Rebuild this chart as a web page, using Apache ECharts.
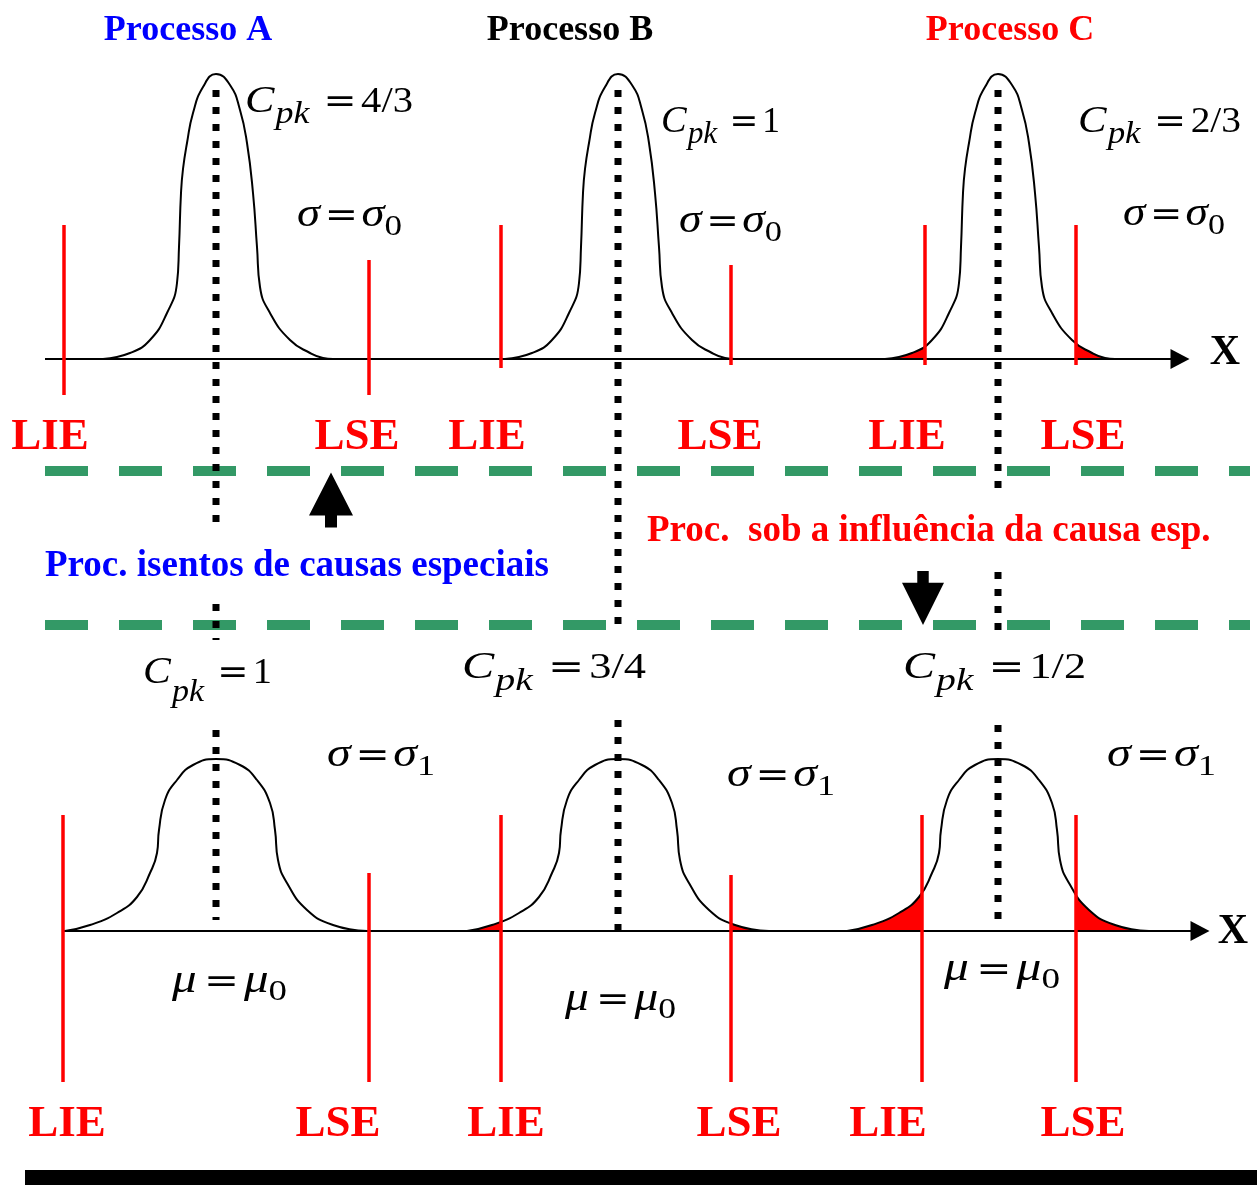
<!DOCTYPE html>
<html>
<head>
<meta charset="utf-8">
<script src="https://cdn.jsdelivr.net/npm/echarts@6/dist/echarts.min.js"></script>
<style>
  html, body { margin: 0; padding: 0; background: #fff; }
  #chart { width: 1257px; height: 1185px; }
</style>
</head>
<body>
<div id="chart"></div>
<script>
// ---- data -------------------------------------------------------------
const processNames  = ['Processo A', 'Processo B', 'Processo C'];
const means         = [216, 618, 998];                 // process mean on the x scale
const limitsSigma0  = [[64, 369], [501, 731], [925, 1076]];   // [LIE, LSE], sigma = sigma0
const limitsSigma1  = [[63, 369], [501, 731], [922, 1076]];   // [LIE, LSE], sigma = sigma1
const cpkSigma0     = ['4/3', '1', '2/3'];
const cpkSigma1     = ['1', '3/4', '1/2'];
// density outlines: [offset from mean, height above the x axis]
const profileSigma0 = [[-113, 0], [-86, 6], [-66, 19], [-49, 46], [-39, 76], [-37, 112],
  [-35, 166], [-33, 190], [-29, 216], [-23, 246], [-13, 272], [0, 285], [14, 274],
  [24, 249], [31, 216], [37, 166], [41, 112], [44, 72], [54, 46], [74, 19], [94, 6],
  [107, 1], [117, 0]];
const profileSigma1 = [[-151, 0], [-126, 6], [-99, 18], [-79, 34], [-66, 58], [-59, 78],
  [-57, 101], [-51, 131], [-39, 151], [-23, 166], [0, 172], [24, 166], [41, 151],
  [54, 128], [59, 101], [62, 71], [71, 48], [91, 21], [117, 6], [151, 0]];

// ---- layout -----------------------------------------------------------
const W = 1257, H = 1185;
const rows = [
  { base: 359, profile: profileSigma0, limits: limitsSigma0,
    limitTops: [[225, 260], [225, 265], [225, 225]], limitBottoms: [[395, 395], [368, 365], [365, 365]],
    axis: [45, 1180], arrowX: 1180, xLabel: [1225, 353],
    limitLabelY: 437, limitLabelX: [[50, 357], [487, 720], [907, 1083]] },
  { base: 931, profile: profileSigma1, limits: limitsSigma1,
    limitTops: [[815, 873], [815, 875], [815, 815]], limitBottoms: [[1082, 1082], [1082, 1082], [1082, 1082]],
    axis: [63, 1200], arrowX: 1200, xLabel: [1233, 932],
    limitLabelY: 1124, limitLabelX: [[67, 338], [506, 739], [888, 1083]] }
];
const meanDots = [
  [[90, 522], [604, 640], [730, 920]],
  [[90, 632], [720, 930]],
  [[90, 488], [572, 634], [725, 920]]
];
const cpkLayout = [
  { x0: 245, x1: 413, base: 115, sub: 10 },
  { x0: 661, x1: 780, base: 135, sub: 10 },
  { x0: 1078, x1: 1241, base: 135, sub: 10 },
  { x0: 143, x1: 272, base: 686, sub: 17 },
  { x0: 462, x1: 646, base: 681, sub: 11 },
  { x0: 903, x1: 1086, base: 681, sub: 11 }
];
const sigmaLayout = [
  { x0: 297, x1: 402, base: 229 }, { x0: 679, x1: 782, base: 235 }, { x0: 1123, x1: 1225, base: 228 },
  { x0: 327, x1: 435, base: 769 }, { x0: 727, x1: 835, base: 789 }, { x0: 1107, x1: 1216, base: 769 }
];
const muLayout = [
  { x0: 172, x1: 287, base: 995 }, { x0: 565, x1: 676, base: 1013 }, { x0: 944, x1: 1060, base: 983 }
];
const titleLayout = [[188, 31, '#0000FF'], [570, 31, '#000000'], [1010, 31, '#FF0000']];

const SERIF = "'Liberation Serif', 'Times New Roman', serif";
const RED = '#FF0000', GREEN = '#339966';

// ---- helpers ----------------------------------------------------------
const mctx = document.createElement('canvas').getContext('2d');
function textWidth(t, font) { mctx.font = font; return mctx.measureText(t).width; }

// formula made of pieces laid side by side, stretched to span x0..x1
function formula(lay, parts) {
  let x = 0;
  const kids = [];
  parts.forEach(p => {
    x += p.gap || 0;
    const font = (p.style ? p.style + ' ' : '') + p.size + 'px ' + (p.family || SERIF);
    kids.push({
      type: 'text', x: x, y: (p.dy || 0) - 0.34 * p.size,
      style: { text: p.t, font: font, fill: '#000', align: 'left', verticalAlign: 'middle' }
    });
    x += textWidth(p.t, font);
  });
  return { type: 'group', x: lay.x0, y: lay.base, scaleX: (lay.x1 - lay.x0) / x, children: kids, z: 10 };
}
function part(t, size, style, extra) {
  return Object.assign({ t: t, size: size, style: style }, extra || {});
}

// ---- series -----------------------------------------------------------
const series = [];
const visualMaps = [];
function segment(points, lineStyle, z) {
  series.push({ type: 'line', data: points, symbol: 'none', silent: true,
    lineStyle: lineStyle, z: z || 2, animation: false });
}

rows.forEach(row => {
  // x axis with arrow
  segment([[row.axis[0], row.base], [row.axis[1] - 8, row.base]], { color: '#000', width: 2 }, 3);
  series.push({ type: 'scatter', data: [[row.arrowX, row.base]], symbol: 'triangle',
    symbolSize: [20, 19], symbolRotate: -90, itemStyle: { color: '#000', opacity: 1 }, silent: true, z: 3 });

  means.forEach((m, i) => {
    const pts = row.profile.map(([dx, h]) => [m + dx, row.base - h]);
    const [lie, lse] = row.limits[i];
    // out-of-spec tails
    visualMaps.push({ type: 'piecewise', show: false, dimension: 0, seriesIndex: series.length,
      pieces: [{ lt: lie, color: RED }, { gte: lie, lte: lse, color: 'rgba(255,0,0,0)' }, { gt: lse, color: RED }] });
    series.push({ type: 'line', data: pts, smooth: 0.5, symbol: 'none',
      lineStyle: { width: 0 }, areaStyle: { origin: row.base, opacity: 1 }, z: 1, silent: true, animation: false });
    // density outline
    series.push({ type: 'line', data: pts, smooth: 0.5, symbol: 'none',
      lineStyle: { color: '#000', width: 2 }, z: 3, silent: true, animation: false });
    // LIE / LSE
    segment([[lie, row.limitTops[i][0]], [lie, row.limitBottoms[i][0]]], { color: RED, width: 3.5 }, 4);
    segment([[lse, row.limitTops[i][1]], [lse, row.limitBottoms[i][1]]], { color: RED, width: 3.5 }, 4);
  });
});

// means (dotted)
means.forEach((m, i) => {
  meanDots[i].forEach(([y1, y2]) =>
    segment([[m, y1], [m, y2]], { color: '#000', width: 7, type: [7, 10], cap: 'butt' }, 6));
});

// dashed separators
[471, 625].forEach(y => segment([[45, y], [1250, y]], { color: GREEN, width: 10, type: [43, 31], cap: 'butt' }, 5));

// block arrows
const blockArrow = 'path://M22 0 L44 43 L28 43 L28 55 L16 55 L16 43 L0 43 Z';
series.push({ type: 'scatter', data: [[331, 500]], symbol: blockArrow, symbolSize: [44, 55],
  itemStyle: { color: '#000', opacity: 1 }, silent: true, z: 7 });
series.push({ type: 'scatter', data: [[923, 598]], symbol: blockArrow, symbolSize: [42, 54], symbolRotate: 180,
  itemStyle: { color: '#000', opacity: 1 }, silent: true, z: 7 });

// ---- text -------------------------------------------------------------
const graphic = [];
processNames.forEach((name, i) => {
  graphic.push({ type: 'text', x: titleLayout[i][0], y: titleLayout[i][1],
    style: { text: name, font: 'bold 36px ' + SERIF, fill: titleLayout[i][2], align: 'center', verticalAlign: 'middle' } });
});
rows.forEach(row => {
  row.limitLabelX.forEach(([a, b]) => {
    graphic.push({ type: 'text', x: a, y: row.limitLabelY,
      style: { text: 'LIE', font: 'bold 45px ' + SERIF, fill: RED, align: 'center', verticalAlign: 'middle' } });
    graphic.push({ type: 'text', x: b, y: row.limitLabelY,
      style: { text: 'LSE', font: 'bold 45px ' + SERIF, fill: RED, align: 'center', verticalAlign: 'middle' } });
  });
  graphic.push({ type: 'text', x: row.xLabel[0], y: row.xLabel[1],
    style: { text: 'X', font: 'bold 42px ' + SERIF, fill: '#000', align: 'center', verticalAlign: 'middle' } });
});
graphic.push({ type: 'text', x: 45, y: 566,
  style: { text: 'Proc. isentos de causas especiais', font: 'bold 37px ' + SERIF, fill: '#0000FF', align: 'left', verticalAlign: 'middle' } });
graphic.push({ type: 'text', x: 647, y: 531,
  style: { text: 'Proc.  sob a influência da causa esp.', font: 'bold 37px ' + SERIF, fill: RED, align: 'left', verticalAlign: 'middle' } });

const EQ = "'DejaVu Sans', sans-serif";
cpkSigma0.concat(cpkSigma1).forEach((v, k) => {
  const lay = cpkLayout[k];
  graphic.push(formula(lay, [
    part('C', 38, 'italic'),
    part('pk', 31, 'italic', { dy: lay.sub, gap: 1 }),
    part('=', 34, '', { family: EQ, gap: 12 }),
    part(v, 35, '', { gap: 4 })
  ]));
});
sigmaLayout.forEach((lay, k) => {
  graphic.push(formula(lay, [
    part('σ', 40, 'italic'),
    part('=', 34, '', { family: EQ, gap: 4 }),
    part('σ', 40, 'italic', { gap: 3 }),
    part(k < 3 ? '0' : '1', 30, '', { dy: 8 })
  ]));
});
muLayout.forEach(lay => {
  graphic.push(formula(lay, [
    part('μ', 40, 'italic'),
    part('=', 34, '', { family: EQ, gap: 6 }),
    part('μ', 40, 'italic', { gap: 4 }),
    part('0', 30, '', { dy: 7 })
  ]));
});
graphic.push({ type: 'rect', shape: { x: 25, y: 1170, width: 1232, height: 15 }, style: { fill: '#000' } });

// ---- chart ------------------------------------------------------------
const chart = echarts.init(document.getElementById('chart'), null, { renderer: 'canvas' });
chart.setOption({
  animation: false,
  backgroundColor: '#fff',
  grid: { left: 0, right: 0, top: 0, bottom: 0 },
  xAxis: { type: 'value', min: 0, max: W, show: false },
  yAxis: { type: 'value', min: 0, max: H, inverse: true, show: false },
  visualMap: visualMaps,
  series: series,
  graphic: graphic
});
</script>
</body>
</html>
